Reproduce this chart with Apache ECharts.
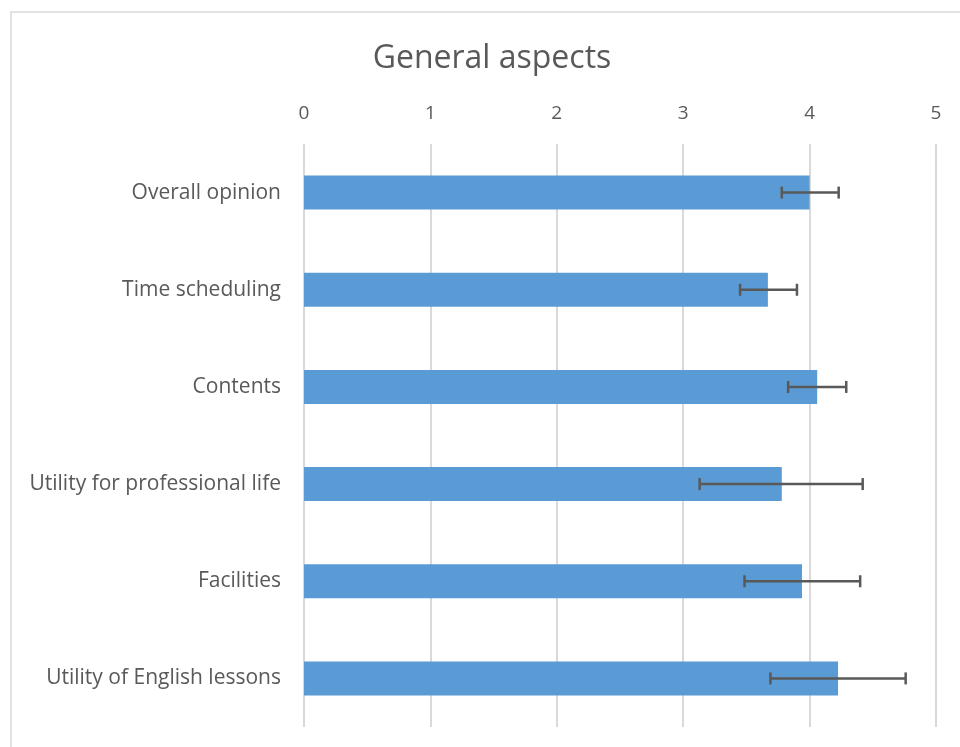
<!DOCTYPE html>
<html>
<head>
<meta charset="utf-8">
<script src="https://cdn.jsdelivr.net/npm/echarts@6/dist/echarts.min.js"></script>
<style>
html,body{margin:0;padding:0;background:#fff;}
#chart{width:960px;height:747px;}
</style>
</head>
<body>
<div id="chart"></div>
<script>
var categories = ['Overall opinion', 'Time scheduling', 'Contents', 'Utility for professional life', 'Facilities', 'Utility of English lessons'];
var means = [4.00, 3.67, 4.06, 3.78, 3.94, 4.225];
var errLow = [3.78, 3.45, 3.83, 3.13, 3.485, 3.69];
var errHigh = [4.23, 3.90, 4.29, 4.42, 4.40, 4.76];

var chart = echarts.init(document.getElementById('chart'));

var errData = categories.map(function (c, i) { return [i, errLow[i], errHigh[i]]; });
var font = '"Open Sans", sans-serif';

var option = {
    animation: false,
    backgroundColor: '#fff',
    textStyle: { fontFamily: font },
    graphic: [{
        type: 'rect',
        shape: { x: 11, y: 12, width: 960, height: 760 },
        style: { fill: 'none', stroke: '#d9d9d9', lineWidth: 1.5 },
        silent: true
    }],
    title: {
        text: 'General aspects',
        left: 487,
        textAlign: 'center',
        top: 38,
        textStyle: { fontSize: 32, fontWeight: 'normal', color: '#595959', fontFamily: font }
    },
    grid: { left: 304, right: 24, top: 144, bottom: 20, containLabel: false },
    xAxis: {
        type: 'value',
        position: 'top',
        min: 0, max: 5, interval: 1,
        axisLine: { show: false },
        axisTick: { show: false },
        axisLabel: { fontSize: 19, color: '#595959', margin: 21 },
        splitLine: { lineStyle: { color: '#d9d9d9', width: 2 } }
    },
    yAxis: {
        type: 'category',
        inverse: true,
        data: categories,
        axisLine: { show: false },
        axisTick: { show: false },
        axisLabel: { fontSize: 21, color: '#595959', margin: 23 }
    },
    series: [{
        type: 'bar',
        data: means,
        barWidth: 34,
        itemStyle: { color: '#5b9bd5' }
    }, {
        type: 'custom',
        data: errData,
        z: 10,
        renderItem: function (params, api) {
            var y = api.value(0);
            var p1 = api.coord([api.value(1), y]);
            var p2 = api.coord([api.value(2), y]);
            var h = 6;
            var st = { stroke: '#595959', lineWidth: 2.5 };
            return {
                type: 'group',
                children: [
                    { type: 'line', shape: { x1: p1[0], y1: p1[1], x2: p2[0], y2: p2[1] }, style: st },
                    { type: 'line', shape: { x1: p1[0], y1: p1[1] - h, x2: p1[0], y2: p1[1] + h }, style: st },
                    { type: 'line', shape: { x1: p2[0], y1: p2[1] - h, x2: p2[0], y2: p2[1] + h }, style: st }
                ]
            };
        }
    }]
};

chart.setOption(option);
window.addEventListener('resize', chart.resize);
</script>
</body>
</html>
